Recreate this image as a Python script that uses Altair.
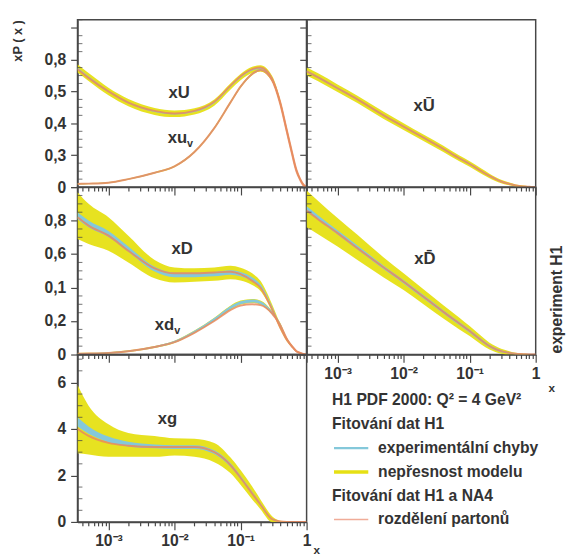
import altair as alt
import pandas as pd

# ---------------- data ----------------
X = [0.00034, 0.0005, 0.001, 0.002, 0.005, 0.01, 0.02, 0.04, 0.07, 0.1,
     0.15, 0.2, 0.3, 0.4, 0.5, 0.6, 0.7, 0.8, 0.9, 1.0]

# top-left: xU and xu_v
XU_MID    = [0.745, 0.69, 0.60, 0.53, 0.475, 0.46, 0.475, 0.53, 0.63, 0.69, 0.735, 0.745, 0.68, 0.53, 0.36, 0.22, 0.11, 0.05, 0.015, 0.0]
XU_MODEL  = [0.026, 0.025, 0.024, 0.023, 0.022, 0.021, 0.02, 0.02, 0.02, 0.02, 0.02, 0.02, 0.018, 0.015, 0.012, 0.009, 0.006, 0.004, 0.002, 0.0]
XU_EXP    = [0.005, 0.005, 0.004, 0.004, 0.004, 0.004, 0.004, 0.004, 0.004, 0.004, 0.004, 0.004, 0.004, 0.003, 0.003, 0.002, 0.002, 0.001, 0.0, 0.0]
XU_PARTON = [0.74, 0.685, 0.60, 0.53, 0.478, 0.462, 0.478, 0.535, 0.635, 0.695, 0.74, 0.75, 0.68, 0.53, 0.36, 0.22, 0.11, 0.05, 0.015, 0.0]

XUV_MID    = [0.02, 0.022, 0.028, 0.05, 0.09, 0.13, 0.22, 0.37, 0.53, 0.63, 0.71, 0.735, 0.67, 0.52, 0.35, 0.21, 0.10, 0.045, 0.01, 0.0]
XUV_MODEL  = [0.004, 0.004, 0.004, 0.004, 0.005, 0.005, 0.006, 0.007, 0.008, 0.008, 0.008, 0.008, 0.007, 0.006, 0.005, 0.004, 0.003, 0.002, 0.001, 0.0]
XUV_EXP    = [0.002, 0.002, 0.002, 0.002, 0.003, 0.003, 0.003, 0.004, 0.004, 0.004, 0.004, 0.004, 0.004, 0.003, 0.003, 0.002, 0.002, 0.001, 0.0, 0.0]
XUV_PARTON = [0.02, 0.022, 0.028, 0.05, 0.09, 0.13, 0.22, 0.37, 0.53, 0.63, 0.71, 0.735, 0.67, 0.52, 0.35, 0.21, 0.10, 0.045, 0.01, 0.0]

# middle-left: xD and xd_v
XD_MID    = [0.83, 0.78, 0.72, 0.63, 0.51, 0.475, 0.475, 0.48, 0.49, 0.48, 0.45, 0.41, 0.28, 0.165, 0.09, 0.05, 0.02, 0.01, 0.003, 0.0]
XD_MODEL  = [0.14, 0.12, 0.10, 0.08, 0.055, 0.045, 0.04, 0.04, 0.04, 0.038, 0.035, 0.03, 0.02, 0.015, 0.01, 0.006, 0.004, 0.002, 0.001, 0.0]
XD_EXP    = [0.02, 0.02, 0.018, 0.016, 0.014, 0.013, 0.013, 0.013, 0.013, 0.013, 0.012, 0.01, 0.007, 0.005, 0.004, 0.003, 0.002, 0.001, 0.0, 0.0]
XD_PARTON = [0.82, 0.77, 0.71, 0.62, 0.515, 0.485, 0.485, 0.49, 0.495, 0.48, 0.44, 0.40, 0.27, 0.16, 0.088, 0.048, 0.02, 0.01, 0.003, 0.0]

XDV_MID    = [0.005, 0.006, 0.01, 0.02, 0.045, 0.076, 0.135, 0.21, 0.28, 0.31, 0.32, 0.31, 0.25, 0.18, 0.095, 0.05, 0.02, 0.008, 0.002, 0.0]
XDV_MODEL  = [0.004, 0.004, 0.004, 0.005, 0.006, 0.007, 0.008, 0.01, 0.012, 0.012, 0.012, 0.012, 0.01, 0.008, 0.006, 0.004, 0.003, 0.002, 0.001, 0.0]
XDV_EXP    = [0.003, 0.003, 0.003, 0.004, 0.005, 0.006, 0.007, 0.008, 0.009, 0.009, 0.009, 0.009, 0.008, 0.006, 0.005, 0.003, 0.002, 0.001, 0.0, 0.0]
XDV_PARTON = [0.005, 0.006, 0.01, 0.02, 0.045, 0.074, 0.13, 0.2, 0.265, 0.292, 0.30, 0.295, 0.245, 0.175, 0.095, 0.05, 0.02, 0.008, 0.002, 0.0]

# bottom-left: xg
XG_MID    = [4.3, 3.95, 3.55, 3.35, 3.25, 3.22, 3.22, 3.0, 2.45, 1.92, 1.25, 0.76, 0.12, 0.02, 0.0, 0.0, 0.0, 0.0, 0.0, 0.0]
XG_HI     = [5.9, 5.0, 4.2, 3.83, 3.7, 3.6, 3.58, 3.4, 2.78, 2.23, 1.52, 0.97, 0.25, 0.05, 0.01, 0.0, 0.0, 0.0, 0.0, 0.0]
XG_LO     = [2.95, 2.9, 2.8, 2.8, 2.8, 2.86, 2.8, 2.57, 2.1, 1.6, 0.97, 0.55, 0.0, 0.0, 0.0, 0.0, 0.0, 0.0, 0.0, 0.0]
XG_EXP    = [0.2, 0.16, 0.12, 0.1, 0.08, 0.08, 0.08, 0.08, 0.08, 0.07, 0.05, 0.04, 0.02, 0.01, 0.0, 0.0, 0.0, 0.0, 0.0, 0.0]
XG_PARTON = [4.0, 3.7, 3.4, 3.28, 3.22, 3.22, 3.22, 3.0, 2.45, 1.9, 1.22, 0.75, 0.12, 0.02, 0.0, 0.0, 0.0, 0.0, 0.0, 0.0]

# top-right: x U-bar
XUB_MID    = [0.726, 0.69, 0.62, 0.55, 0.45, 0.38, 0.31, 0.24, 0.18, 0.145, 0.10, 0.07, 0.035, 0.02, 0.01, 0.006, 0.004, 0.002, 0.001, 0.0]
XUB_MODEL  = [0.026, 0.025, 0.024, 0.023, 0.022, 0.021, 0.02, 0.019, 0.018, 0.017, 0.016, 0.014, 0.011, 0.009, 0.007, 0.005, 0.004, 0.003, 0.002, 0.0]
XUB_EXP    = [0.005, 0.005, 0.005, 0.004, 0.004, 0.004, 0.004, 0.004, 0.004, 0.004, 0.003, 0.003, 0.003, 0.002, 0.002, 0.001, 0.001, 0.0, 0.0, 0.0]
XUB_PARTON = [0.726, 0.69, 0.62, 0.55, 0.45, 0.38, 0.31, 0.24, 0.18, 0.145, 0.10, 0.07, 0.035, 0.02, 0.01, 0.006, 0.004, 0.002, 0.001, 0.0]

# middle-right: x D-bar
XDB_MID    = [0.87, 0.82, 0.73, 0.64, 0.52, 0.435, 0.345, 0.255, 0.185, 0.14, 0.085, 0.05, 0.02, 0.01, 0.005, 0.003, 0.002, 0.001, 0.0, 0.0]
XDB_MODEL  = [0.11, 0.10, 0.085, 0.075, 0.06, 0.05, 0.045, 0.04, 0.035, 0.03, 0.025, 0.02, 0.015, 0.01, 0.005, 0.003, 0.002, 0.001, 0.0, 0.0]
XDB_EXP    = [0.015, 0.014, 0.013, 0.012, 0.011, 0.01, 0.01, 0.01, 0.01, 0.01, 0.009, 0.008, 0.006, 0.004, 0.003, 0.002, 0.001, 0.0, 0.0, 0.0]
XDB_PARTON = [0.86, 0.81, 0.725, 0.635, 0.52, 0.435, 0.345, 0.255, 0.185, 0.14, 0.085, 0.05, 0.02, 0.01, 0.005, 0.003, 0.002, 0.001, 0.0, 0.0]

LEGEND_TEXT = ["H1 PDF 2000: Q² = 4 GeV²", "Fitování dat H1", "experimentální chyby",
               "nepřesnost modelu", "Fitování dat H1 a NA4", "rozdělení partonů"]

TOP_YLAB = [(0, "0"), (0.2, "0,3"), (0.4, "0,4"), (0.6, "0,5"), (0.8, "0,8")]
MID_YLAB = [(0, "0"), (0.2, "0,2"), (0.4, "0,1"), (0.6, "0,6"), (0.8, "0,8")]
BOT_YLAB = [(0, "0"), (2, "2"), (4, "4"), (6, "6")]

# ---------------- style ----------------
W, H = 234, 171
YEL = "#e6e014"
CYA = "#84c8da"
ORA = "#e8895f"
INK = "#333333"
FRAME = "#474747"
FONT = "Liberation Sans"

XTICKS = [v for v in [m * 10.0 ** e for e in (-4, -3, -2, -1) for m in range(1, 10)] + [1.0] if v >= 0.00034]
XMAJOR = "abs(log(datum.value)/LN10 - round(log(datum.value)/LN10)) < 0.01"
XLAB = ("datum.value > 0.00099 && datum.value < 0.00101 ? '10⁻³' : "
        "datum.value > 0.0099 && datum.value < 0.0101 ? '10⁻²' : "
        "datum.value > 0.099 && datum.value < 0.101 ? '10⁻¹' : "
        "datum.value > 0.99 ? '1' : ''")
xscale = alt.Scale(type="log", domain=[0.00034, 1.0], nice=False)


def label_expr(pairs):
    expr = "''"
    for v, lab in reversed(pairs):
        expr = f"abs(datum.value - {v}) < 1e-6 ? '{lab}' : {expr}"
    return expr


def xaxis(labels, title=None, tx=0, ty=0):
    kw = dict(values=XTICKS, tickCount=200, grid=False,
              tickSize={"condition": {"test": XMAJOR, "value": 8}, "value": 4},
              tickColor=FRAME, tickWidth=1.2, domainColor=FRAME, domainWidth=1.5,
              labelOverlap=False, labelBound=False, labelFlush=False)
    if labels:
        kw.update(labelExpr=XLAB, labelFont=FONT, labelFontSize=16, labelFontWeight="bold",
                  labelColor=INK, labelPadding=3)
    else:
        kw.update(labels=False)
    if title:
        kw.update(title=title, titleX=tx, titleY=ty, titleFont=FONT, titleFontSize=12,
                  titleFontWeight="bold", titleColor=INK, titleAlign="center", titleBaseline="middle")
    else:
        kw.update(title=None)
    return alt.Axis(**kw)


def yaxis(values, pairs=None, title=None):
    kw = dict(values=values, tickCount=100, grid=False, tickSize=7,
              tickColor=FRAME, tickWidth=1.2, domainColor=FRAME, domainWidth=1.5,
              labelOverlap=False, labelBound=False, labelFlush=False)
    if pairs:
        kw.update(labelExpr=label_expr(pairs), labelFont=FONT, labelFontSize=16,
                  labelFontWeight="bold", labelColor=INK, labelPadding=5)
    else:
        kw.update(labels=False)
    if title:
        kw.update(title=title, titleAnchor="end", titleFont=FONT, titleFontSize=13,
                  titleFontWeight="bold", titleColor=INK, titlePadding=20)
    else:
        kw.update(title=None)
    return alt.Axis(**kw)


def make_df(curves):
    rows = []
    for name, mid, mlo, mhi, exp, parton in curves:
        for i, x in enumerate(X):
            rows.append(dict(x=x, curve=name, mlo=mlo[i], mhi=mhi[i],
                             elo=mid[i] - exp[i], ehi=mid[i] + exp[i], p=parton[i]))
    return pd.DataFrame(rows)


def sym(name, mid, model, exp, parton):
    return (name, mid, [m - d for m, d in zip(mid, model)], [m + d for m, d in zip(mid, model)], exp, parton)


def label_layer(txt, x, y, yscale, size=17, align="center", dy=0):
    df = pd.DataFrame({"x": [x], "y": [y], "t": [txt]})
    return alt.Chart(df).mark_text(font=FONT, fontSize=size, fontWeight="bold", color=INK,
                                   align=align, baseline="middle", dy=dy).encode(
        x=alt.X("x:Q", scale=xscale), y=alt.Y("y:Q", scale=yscale), text="t:N")


def panel(curves, ydomain, xax, yax, minor, labels, extra=None):
    df = make_df(curves)
    yscale = alt.Scale(domain=ydomain, nice=False, zero=False)
    base = alt.Chart(df)
    xenc = alt.X("x:Q", scale=xscale, axis=xax)
    band = base.mark_area(color=YEL, interpolate="monotone", clip=True, opacity=0.95).encode(
        x=xenc, y=alt.Y("mlo:Q", scale=yscale, axis=yax), y2="mhi:Q", detail="curve:N")
    exp = base.mark_area(color=CYA, interpolate="monotone", clip=True).encode(
        x=xenc, y=alt.Y("elo:Q", scale=yscale, axis=yax), y2="ehi:Q", detail="curve:N")
    line = base.mark_line(color=ORA, strokeWidth=2, interpolate="monotone", clip=True, opacity=0.85).encode(
        x=xenc, y=alt.Y("p:Q", scale=yscale, axis=yax), detail="curve:N")
    ticks = alt.Chart(pd.DataFrame({"yv": minor})).mark_tick(
        orient="horizontal", size=5, thickness=1.1, color=FRAME).encode(
        x=alt.value(2.5), y=alt.Y("yv:Q", scale=yscale, axis=yax))
    layers = [band, exp, line, ticks]
    for lab in labels:
        layers.append(label_layer(*lab[:3], yscale, *lab[3:]))
    if extra is not None:
        layers.append(extra)
    return alt.layer(*layers).properties(width=W, height=H)


TOP_MAJ = [0, 0.2, 0.4, 0.6, 0.8, 1.0]
MID_MAJ = [0, 0.2, 0.4, 0.6, 0.8, 1.0]
BOT_MAJ = [0, 2, 4, 6]
TOP_MIN = [0.05, 0.1, 0.15, 0.25, 0.3, 0.35, 0.45, 0.5, 0.55, 0.65, 0.7, 0.75, 0.85, 0.9, 0.95, 1.05]
MID_MIN = [0.05, 0.1, 0.15, 0.25, 0.3, 0.35, 0.45, 0.5, 0.55, 0.65, 0.7, 0.75, 0.85, 0.9, 0.95]
BOT_MIN = [0.5, 1, 1.5, 2.5, 3, 3.5, 4.5, 5, 5.5, 6.5, 7]

tl = panel([sym("xU", XU_MID, XU_MODEL, XU_EXP, XU_PARTON),
            sym("xuv", XUV_MID, XUV_MODEL, XUV_EXP, XUV_PARTON)],
           [0, 1.05], xaxis(False), yaxis(TOP_MAJ, TOP_YLAB, "xP ( x )"), TOP_MIN,
           [("xU", 0.0117, 0.59), ("xu", 0.0155, 0.31, 17, "right"), ("v", 0.0155, 0.31, 11, "left", 6)])

tr = panel([sym("xUb", XUB_MID, XUB_MODEL, XUB_EXP, XUB_PARTON)],
           [0, 1.05], xaxis(False), yaxis(TOP_MAJ), TOP_MIN,
           [("xŪ", 0.0204, 0.51)])

ml = panel([sym("xD", XD_MID, XD_MODEL, XD_EXP, XD_PARTON),
            sym("xdv", XDV_MID, XDV_MODEL, XDV_EXP, XDV_PARTON)],
           [0, 1.0], xaxis(False), yaxis(MID_MAJ, MID_YLAB), MID_MIN,
           [("xD", 0.013, 0.63), ("xd", 0.0099, 0.176, 17, "right"), ("v", 0.0099, 0.176, 11, "left", 6)])

exp_txt = alt.Chart(pd.DataFrame({"t": ["experiment H1"]})).mark_text(
    font=FONT, fontSize=16, fontWeight="bold", color=INK, angle=270, align="left", baseline="middle").encode(
    x=alt.value(W + 22), y=alt.value(H - 1), text="t:N")

mr = panel([sym("xDb", XDB_MID, XDB_MODEL, XDB_EXP, XDB_PARTON)],
           [0, 1.0], xaxis(True, "x", W + 16, 34), yaxis(MID_MAJ), MID_MIN,
           [("xD\u0304", 0.021, 0.57)], extra=exp_txt)

bl = panel([("xg", XG_MID, XG_LO, XG_HI, XG_EXP, XG_PARTON)],
           [0, 7.2], xaxis(True, "x", W + 10, 28), yaxis(BOT_MAJ, BOT_YLAB), BOT_MIN,
           [("xg", 0.0078, 4.42)])

# ---------------- legend cell ----------------
leg_df = pd.DataFrame({"row": list(range(6)), "t": LEGEND_TEXT,
                       "kind": ["h", "h", "e", "e", "h", "e"],
                       "col": ["", "", CYA, YEL, "", "#f0ac98"],
                       "sw": [0, 0, 2.5, 3.5, 0, 1.5]})
ly = alt.Scale(domain=[-47 / 24.3, (H - 47) / 24.3], reverse=True)
lbase = alt.Chart(leg_df)
heads = lbase.transform_filter("datum.kind == 'h'").mark_text(
    font=FONT, fontSize=16, fontWeight="bold", color=INK, align="left", baseline="middle").encode(
    x=alt.value(26), y=alt.Y("row:Q", scale=ly, axis=None), text="t:N")
ents = lbase.transform_filter("datum.kind == 'e'").mark_text(
    font=FONT, fontSize=16, fontWeight="bold", color=INK, align="left", baseline="middle").encode(
    x=alt.value(73), y=alt.Y("row:Q", scale=ly, axis=None), text="t:N")
rules = lbase.transform_filter("datum.kind == 'e'").mark_rule().encode(
    x=alt.value(28), x2=alt.value(63), y=alt.Y("row:Q", scale=ly, axis=None),
    color=alt.Color("col:N", scale=None), strokeWidth=alt.StrokeWidth("sw:Q", scale=None))
leg = alt.layer(rules, heads, ents).properties(width=W, height=H, view=alt.ViewBackground(strokeOpacity=0))

chart = alt.concat(tl, tr, ml, mr, bl, leg, columns=2, spacing=0, bounds="flush").properties(
    padding={"left": 3, "top": 4, "right": 2, "bottom": 2}, background="white"
).configure_view(stroke=FRAME, strokeWidth=1.5).configure_axis(labelOverlap=False)

chart.save("out.html", embed_options={"renderer": "svg", "actions": False})
